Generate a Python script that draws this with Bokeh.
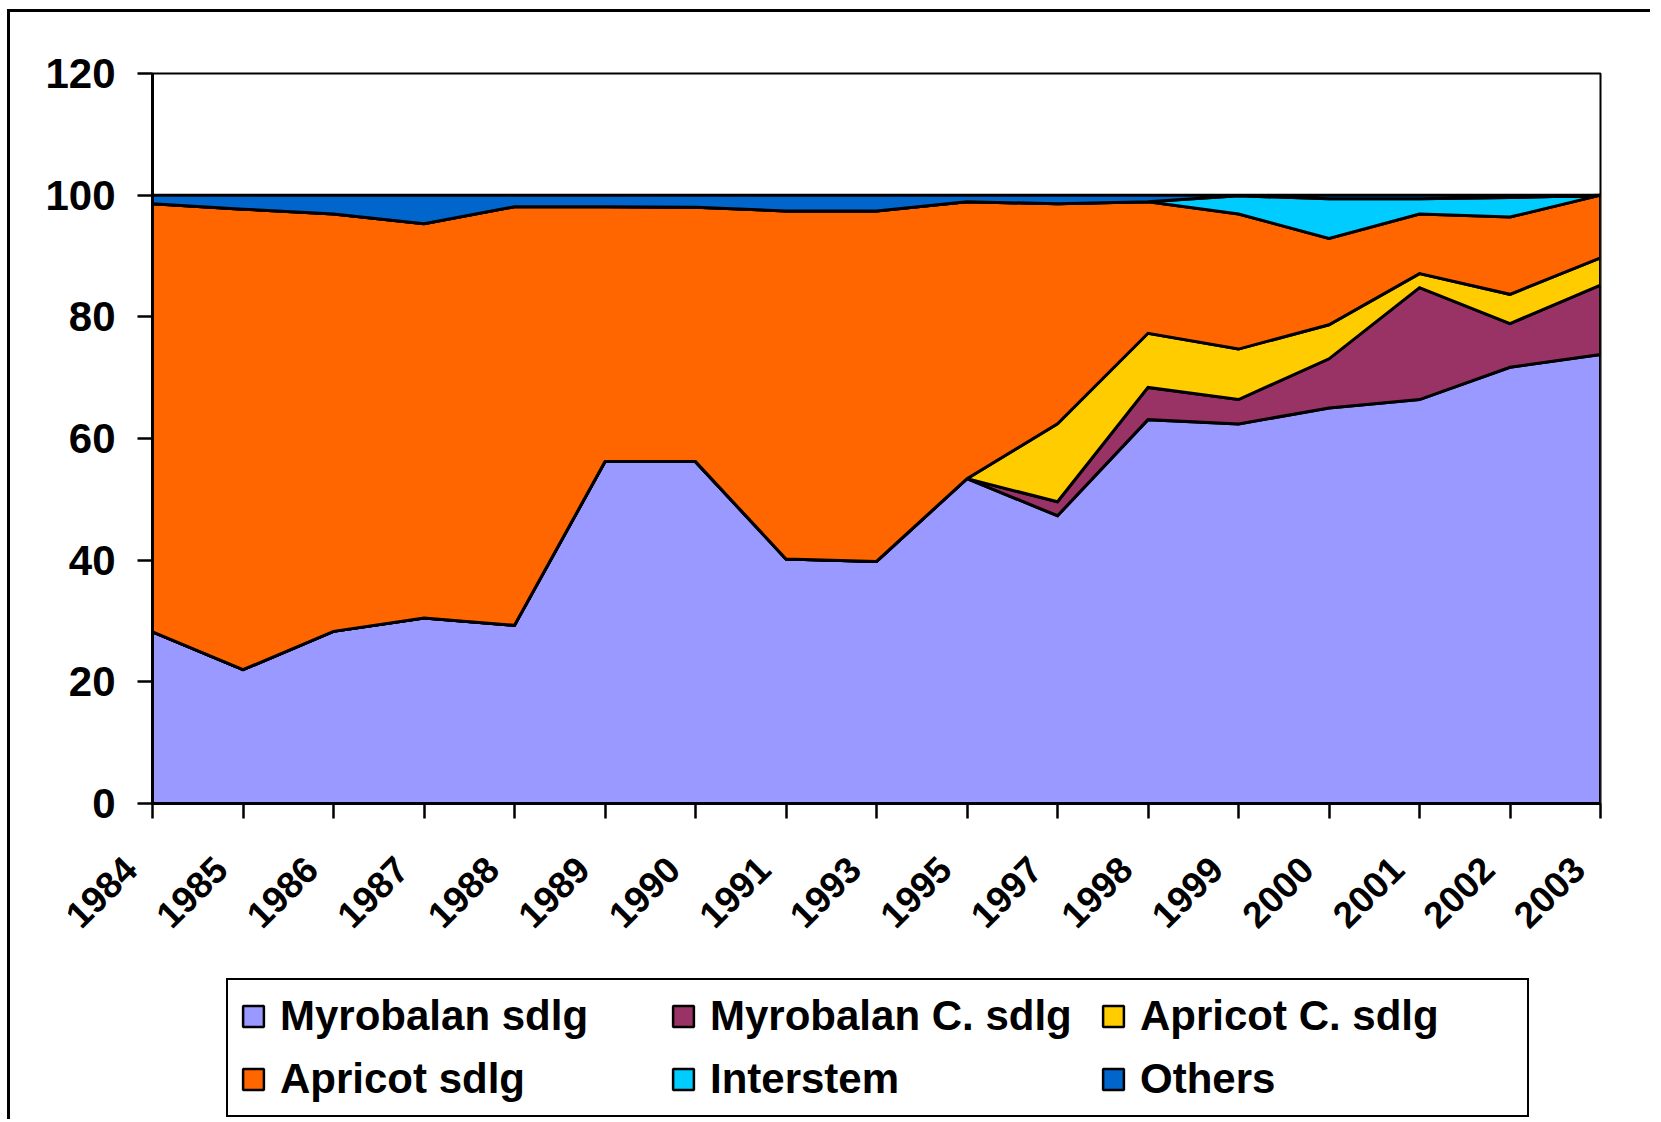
import math
from bokeh.plotting import figure
from bokeh.layouts import column
from bokeh.models import Range1d, FixedTicker, Legend, LegendItem
from bokeh.embed import file_html
from bokeh.resources import INLINE

years = ["1984", "1985", "1986", "1987", "1988", "1989", "1990", "1991", "1993",
         "1995", "1997", "1998", "1999", "2000", "2001", "2002", "2003"]

myrobalan = [28.2, 22.0, 28.3, 30.5, 29.3, 56.2, 56.2, 40.2, 39.8, 53.4, 47.3, 63.1, 62.4, 65.0, 66.4, 71.7, 73.8]
myrobalan_c = [0, 0, 0, 0, 0, 0, 0, 0, 0, 0, 2.3, 5.3, 4.0, 8.1, 18.4, 7.2, 11.4]
apricot_c = [0, 0, 0, 0, 0, 0, 0, 0, 0, 0, 12.8, 8.9, 8.3, 5.6, 2.3, 4.8, 4.5]
apricot = [70.4, 75.7, 68.6, 64.8, 68.8, 41.9, 41.8, 57.2, 57.6, 45.5, 36.2, 21.6, 22.2, 14.2, 9.8, 12.7, 10.3]
interstem = [0, 0, 0, 0, 0, 0, 0, 0, 0, 0, 0, 0, 3.0, 6.5, 2.5, 3.2, 0]
others = [1.4, 2.3, 3.1, 4.7, 1.9, 1.9, 2.0, 2.6, 2.6, 1.1, 1.4, 1.1, 0.1, 0.6, 0.6, 0.4, 0.0]

series_names = ["Myrobalan sdlg", "Myrobalan C. sdlg", "Apricot C. sdlg",
                "Apricot sdlg", "Interstem", "Others"]
series_values = [myrobalan, myrobalan_c, apricot_c, apricot, interstem, others]
series_colors = ["#9999FF", "#993366", "#FFCC00", "#FF6600", "#00CCFF", "#0066CC"]

y_ticks = [0, 20, 40, 60, 80, 100, 120]

FONT = "Liberation Sans"

xs = list(range(len(years)))

# ---------------- main chart ----------------
p = figure(frame_width=1448, frame_height=730,
           min_border_left=142, min_border_right=50,
           min_border_top=61, min_border_bottom=165,
           x_range=Range1d(0, len(years) - 1), y_range=Range1d(0, 120),
           output_backend="svg", toolbar_location=None,
           background_fill_color="white", border_fill_color="white")

p.xgrid.visible = False
p.ygrid.visible = False
p.outline_line_color = "black"
p.outline_line_width = 2

lower = [0.0] * len(years)
for name, vals, col in zip(series_names, series_values, series_colors):
    upper = [a + b for a, b in zip(lower, vals)]
    p.patch(x=xs + xs[::-1], y=upper + lower[::-1],
            fill_color=col, line_color="black", line_width=3,
            line_join="miter")
    lower = upper

p.xaxis.ticker = FixedTicker(ticks=xs)
# trailing spaces nudge the rotated labels like in the original chart
p.xaxis.major_label_overrides = {i: y + "   " for i, y in enumerate(years)}
p.xaxis.major_label_orientation = math.pi / 4
p.yaxis.ticker = FixedTicker(ticks=y_ticks)

for ax in (p.xaxis[0], p.yaxis[0]):
    ax.axis_line_color = "black"
    ax.axis_line_width = 3
    ax.major_tick_line_color = "black"
    ax.major_tick_line_width = 2.5
    ax.major_tick_in = 0
    ax.major_tick_out = 15
    ax.minor_tick_line_color = None
    ax.major_label_text_font = FONT
    ax.major_label_text_font_style = "bold"
    ax.major_label_text_color = "black"

p.yaxis.major_label_text_font_size = "42px"
p.yaxis.major_label_standoff = 22
p.xaxis.major_label_text_font_size = "37px"
p.xaxis.major_label_standoff = 23

# ---------------- legend strip ----------------
p2 = figure(frame_width=1448, frame_height=141,
            min_border_left=142, min_border_right=50,
            min_border_top=10, min_border_bottom=0,
            x_range=Range1d(0, 1), y_range=Range1d(0, 1),
            x_axis_location=None, y_axis_location=None,
            output_backend="svg", toolbar_location=None,
            background_fill_color="white", border_fill_color="white")
p2.outline_line_color = None
p2.grid.visible = False

nan = float("nan")
items = []
for name, col in zip(series_names, series_colors):
    # legend proxy: a patch with no drawable points
    r = p2.patch(x=[nan, nan, nan], y=[nan, nan, nan], fill_color=col,
                 line_color="black", line_width=2.5)
    items.append(LegendItem(label=name, renderers=[r]))

legend = Legend(
    items=items, location=(74, 2), orientation="horizontal", ncols=3,
    border_line_color="black", border_line_width=2.5, border_line_alpha=1.0,
    background_fill_color="white", background_fill_alpha=1,
    padding=12, spacing=15, margin=0,
    glyph_width=26, glyph_height=26, label_standoff=14, label_width=375,
    label_text_font=FONT, label_text_font_style="bold",
    label_text_font_size="42px", label_text_color="black",
)
p2.add_layout(legend, "center")

layout = column(p, p2, spacing=0,
                styles={"border-left": "3px solid black", "border-top": "3px solid black",
                        "margin-left": "7px", "margin-top": "9px"})

open("out.html", "w").write(file_html(layout, INLINE))
